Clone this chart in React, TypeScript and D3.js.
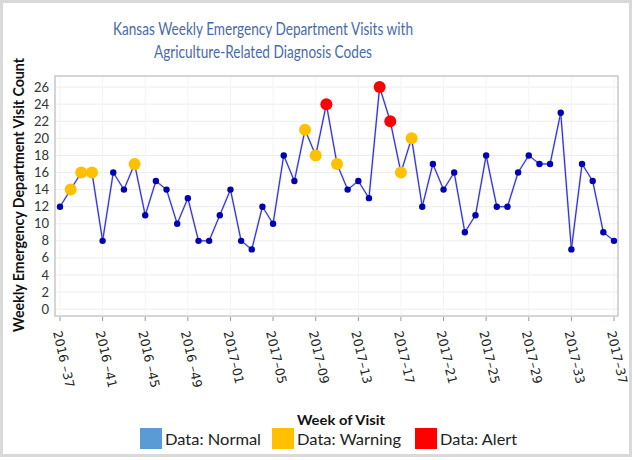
import React from "react";
import * as d3 from "d3";

const weeks: string[] = [
  "2016-37","2016-38","2016-39","2016-40","2016-41","2016-42","2016-43","2016-44","2016-45","2016-46","2016-47","2016-48","2016-49","2016-50","2016-51","2016-52",
  "2017-01","2017-02","2017-03","2017-04","2017-05","2017-06","2017-07","2017-08","2017-09","2017-10","2017-11","2017-12","2017-13","2017-14","2017-15","2017-16","2017-17","2017-18","2017-19","2017-20","2017-21","2017-22","2017-23","2017-24","2017-25","2017-26","2017-27","2017-28","2017-29","2017-30","2017-31","2017-32","2017-33","2017-34","2017-35","2017-36","2017-37",
];

const visits: number[] = [
  12,14,16,16,8,16,14,17,11,15,14,10,13,8,8,11,
  14,8,7,12,10,18,15,21,18,24,17,14,15,13,26,22,16,20,12,17,14,16,9,11,18,12,12,16,18,17,17,23,7,17,15,9,8,
];

// N = normal, W = warning, A = alert
const status: string[] = [
  "N","W","W","W","N","N","N","W","N","N","N","N","N","N","N","N",
  "N","N","N","N","N","N","N","W","W","A","W","N","N","N","A","A","W","W","N","N","N","N","N","N","N","N","N","N","N","N","N","N","N","N","N","N","N",
];

const tickWeeks: string[] = ["2016-37","2016-41","2016-45","2016-49","2017-01","2017-05","2017-09","2017-13","2017-17","2017-21","2017-25","2017-29","2017-33","2017-37"];
const yTicks: number[] = [0,2,4,6,8,10,12,14,16,18,20,22,24,26];

const legendItems = [
  { key: "N", label: "Data: Normal", color: "#5b9bd5" },
  { key: "W", label: "Data: Warning", color: "#ffc000" },
  { key: "A", label: "Data: Alert", color: "#ff0000" },
];

const titleLines = ["Kansas Weekly Emergency Department Visits with", "Agriculture-Related Diagnosis Codes"];

const FONT = "Lato, 'Open Sans', sans-serif";

function tickLabel(w: string) {
  const [y, n] = w.split("-");
  return y === "2016" ? `${y} –${n}` : `${y}–${n}`;
}

export default function App() {
  const W = 635, H = 460;
  const plot = { left: 55, right: 618, top: 76, bottom: 316 };
  const x = d3.scalePoint<string>().domain(weeks).range([60, 614]);
  const y = d3.scaleLinear().domain([-0.8, 27.3]).range([plot.bottom, plot.top]);
  const pts = weeks.map((w, i) => ({ w, v: visits[i], s: status[i] }));
  const line = d3.line<{ w: string; v: number }>().x(d => x(d.w)!).y(d => y(d.v));
  const colorOf = (s: string) => (s === "W" ? "#ffc000" : s === "A" ? "#ff0000" : "#0000b4");
  const legendX = [140, 272, 415];
  const legendLen = [96, 104, 77];
  const titleLen = [300, 218];

  return (
    <svg width={W} height={H} style={{ position: "absolute", left: 0, top: 0, background: "#fff" }} fontFamily={FONT}>
      <rect x={1.5} y={1.5} width={629} height={454} fill="#fff" stroke="#d9d9d9" strokeWidth={3} />
      {titleLines.map((t, i) => (
        <text key={i} x={263} y={35 + i * 23} textAnchor="middle" fontSize={18} fill="#4a6aa8"
          textLength={titleLen[i]} lengthAdjust="spacingAndGlyphs">{t}</text>
      ))}
      {/* grid */}
      {yTicks.map(t => (
        <line key={t} x1={plot.left} x2={plot.right} y1={y(t)} y2={y(t)} stroke="#ececec" strokeWidth={1} />
      ))}
      {tickWeeks.map(t => (
        <line key={t} x1={x(t)!} x2={x(t)!} y1={plot.top} y2={plot.bottom} stroke="#f3f3f3" strokeWidth={1} />
      ))}
      <rect x={plot.left} y={plot.top} width={plot.right - plot.left} height={plot.bottom - plot.top} fill="none" stroke="#c8c8c8" strokeWidth={1.5} />
      {/* y ticks */}
      {yTicks.map(t => (
        <text key={t} x={49} y={y(t) + 4.5} textAnchor="end" fontSize={13} fill="#333">{t}</text>
      ))}
      {/* x ticks */}
      {tickWeeks.map(t => (
        <g key={t}>
          <line x1={x(t)!} x2={x(t)!} y1={plot.bottom + 1} y2={plot.bottom + 5} stroke="#999" strokeWidth={1} />
          <text transform={`translate(${x(t)! - 7},${plot.bottom + 16}) rotate(77)`} fontSize={12.5} fill="#222"
            fontFamily="'DejaVu Sans', sans-serif">{tickLabel(t)}</text>
        </g>
      ))}
      {/* series */}
      <path d={line(pts) || ""} fill="none" stroke="#8888ee" strokeWidth={2} opacity={0.6} />
      <path d={line(pts) || ""} fill="none" stroke="#2a2acc" strokeWidth={1} />
      {pts.map((p, i) => (
        <circle key={i} cx={x(p.w)!} cy={y(p.v)} r={p.s === "N" ? 3.2 : 6} fill={colorOf(p.s)} />
      ))}
      {/* axis titles */}
      <text transform={`translate(24,195) rotate(-90)`} textAnchor="middle" fontSize={15} fontWeight="bold" fill="#111"
        textLength={274} lengthAdjust="spacingAndGlyphs">Weekly Emergency Department Visit Count</text>
      <text x={341} y={425} textAnchor="middle" fontSize={14} fontWeight="bold" fill="#111"
        textLength={88} lengthAdjust="spacingAndGlyphs">Week of Visit</text>
      {/* legend */}
      {legendItems.map((l, i) => (
        <g key={l.key}>
          <rect x={legendX[i]} y={428} width={22} height={21} fill={l.color} />
          <text x={legendX[i] + 25} y={445} fontSize={16} fill="#222"
            textLength={legendLen[i]} lengthAdjust="spacingAndGlyphs">{l.label}</text>
        </g>
      ))}
    </svg>
  );
}
